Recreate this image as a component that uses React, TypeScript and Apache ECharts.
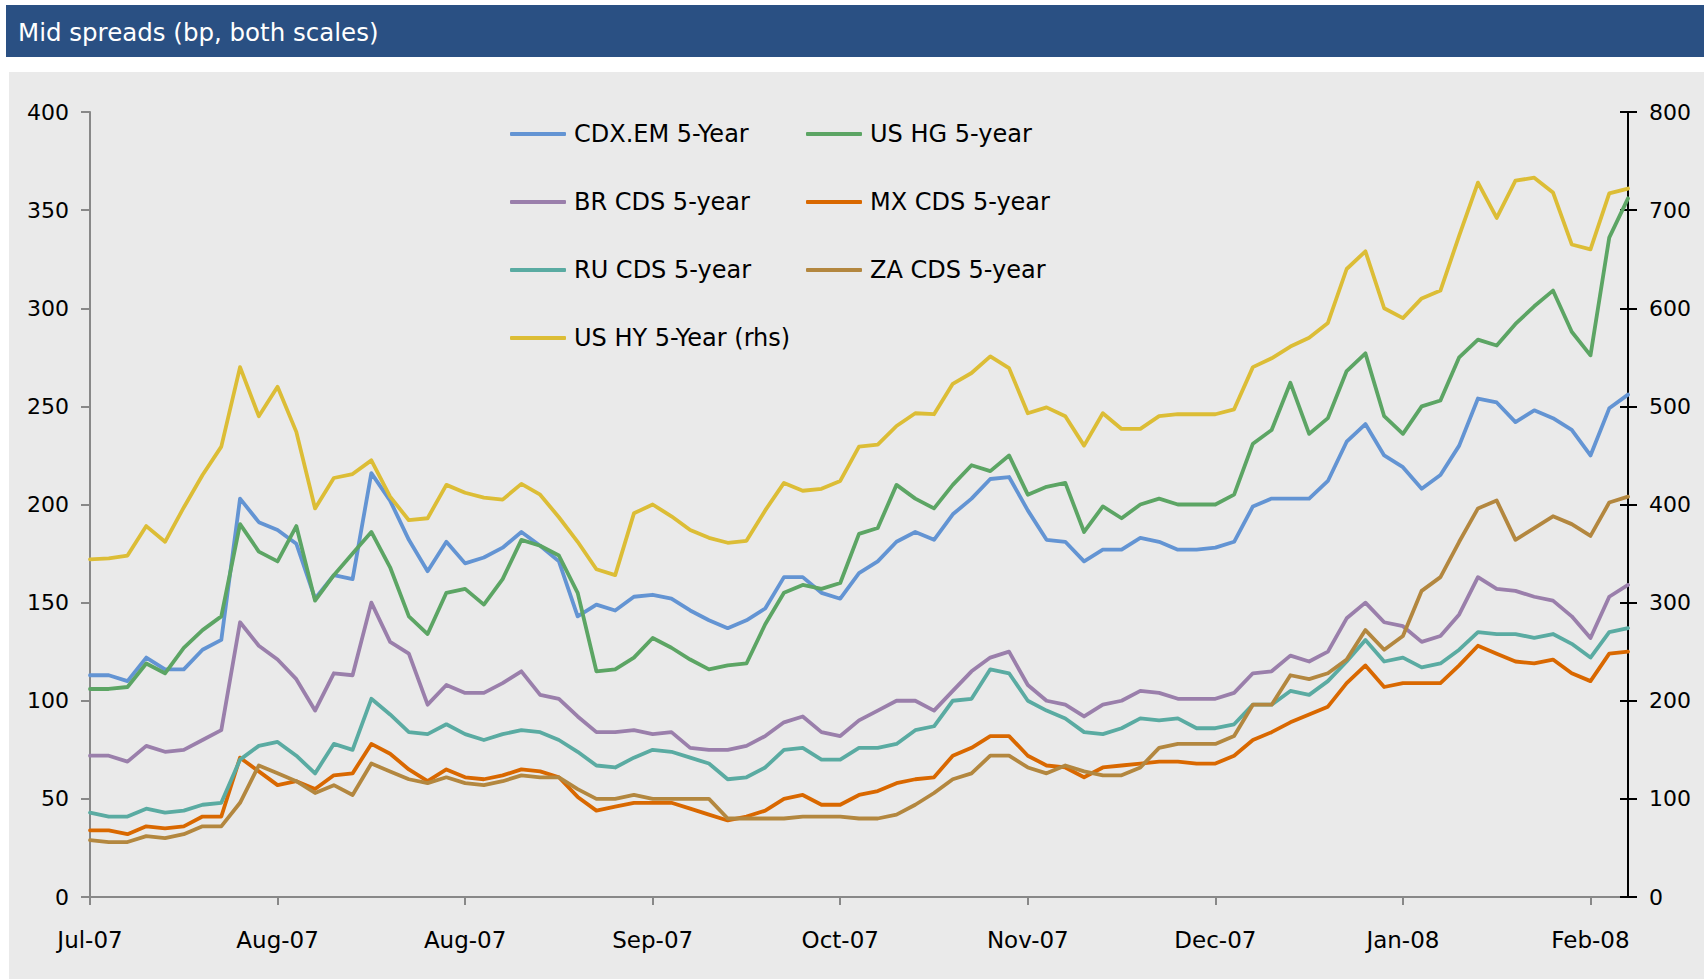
import React, { useEffect, useRef } from "react";
import * as echarts from "echarts";

// Month labels shown every 10 observations on the category axis
const monthLabels = ["Jul-07", "Aug-07", "Aug-07", "Sep-07", "Oct-07", "Nov-07", "Dec-07", "Jan-08", "Feb-08"];
const labelEvery = 10;
const obsCount = 83;
const observations = Array.from({ length: obsCount }, (_, i) => `obs${i}`);

// Left axis series (bp)
const cdxEm = [
  113, 113, 110, 122, 116, 116, 126, 131, 203, 191,
  187, 180, 152, 164, 162, 216, 202, 182, 166, 181,
  170, 173, 178, 186, 179, 171, 143, 149, 146, 153,
  154, 152, 146, 141, 137, 141, 147, 163, 163, 155,
  152, 165, 171, 181, 186, 182, 195, 203, 213, 214,
  197, 182, 181, 171, 177, 177, 183, 181, 177, 177,
  178, 181, 199, 203, 203, 203, 212, 232, 241, 225,
  219, 208, 215, 230, 254, 252, 242, 248, 244, 238,
  225, 249, 256,
];
const usHg = [
  106, 106, 107, 119, 114, 127, 136, 143, 190, 176,
  171, 189, 151, 164, 175, 186, 168, 143, 134, 155,
  157, 149, 162, 182, 179, 174, 155, 115, 116, 122,
  132, 127, 121, 116, 118, 119, 139, 155, 159, 157,
  160, 185, 188, 210, 203, 198, 210, 220, 217, 225,
  205, 209, 211, 186, 199, 193, 200, 203, 200, 200,
  200, 205, 231, 238, 262, 236, 244, 268, 277, 245,
  236, 250, 253, 275, 284, 281, 292, 301, 309, 288,
  276, 336, 356,
];
const brCds = [
  72, 72, 69, 77, 74, 75, 80, 85, 140, 128,
  121, 111, 95, 114, 113, 150, 130, 124, 98, 108,
  104, 104, 109, 115, 103, 101, 92, 84, 84, 85,
  83, 84, 76, 75, 75, 77, 82, 89, 92, 84,
  82, 90, 95, 100, 100, 95, 105, 115, 122, 125,
  108, 100, 98, 92, 98, 100, 105, 104, 101, 101,
  101, 104, 114, 115, 123, 120, 125, 142, 150, 140,
  138, 130, 133, 144, 163, 157, 156, 153, 151, 143,
  132, 153, 159,
];
const mxCds = [
  34, 34, 32, 36, 35, 36, 41, 41, 71, 64,
  57, 59, 55, 62, 63, 78, 73, 65, 59, 65,
  61, 60, 62, 65, 64, 61, 51, 44, 46, 48,
  48, 48, 45, 42, 39, 41, 44, 50, 52, 47,
  47, 52, 54, 58, 60, 61, 72, 76, 82, 82,
  72, 67, 66, 61, 66, 67, 68, 69, 69, 68,
  68, 72, 80, 84, 89, 93, 97, 109, 118, 107,
  109, 109, 109, 118, 128, 124, 120, 119, 121, 114,
  110, 124, 125,
];
const ruCds = [
  43, 41, 41, 45, 43, 44, 47, 48, 70, 77,
  79, 72, 63, 78, 75, 101, 93, 84, 83, 88,
  83, 80, 83, 85, 84, 80, 74, 67, 66, 71,
  75, 74, 71, 68, 60, 61, 66, 75, 76, 70,
  70, 76, 76, 78, 85, 87, 100, 101, 116, 114,
  100, 95, 91, 84, 83, 86, 91, 90, 91, 86,
  86, 88, 98, 98, 105, 103, 110, 120, 131, 120,
  122, 117, 119, 126, 135, 134, 134, 132, 134, 129,
  122, 135, 137,
];
const zaCds = [
  29, 28, 28, 31, 30, 32, 36, 36, 48, 67,
  63, 59, 53, 57, 52, 68, 64, 60, 58, 61,
  58, 57, 59, 62, 61, 61, 55, 50, 50, 52,
  50, 50, 50, 50, 40, 40, 40, 40, 41, 41,
  41, 40, 40, 42, 47, 53, 60, 63, 72, 72,
  66, 63, 67, 64, 62, 62, 66, 76, 78, 78,
  78, 82, 98, 98, 113, 111, 114, 121, 136, 126,
  133, 156, 163, 181, 198, 202, 182, 188, 194, 190,
  184, 201, 204,
];
// Right axis series (bp)
const usHy = [
  344, 345, 348, 378, 362, 397, 430, 459, 540, 490,
  520, 474, 396, 427, 431, 445, 408, 384, 386, 420,
  412, 407, 405, 421, 410, 387, 362, 334, 328, 391,
  400, 388, 374, 366, 361, 363, 394, 422, 414, 416,
  424, 459, 461, 480, 493, 492, 523, 534, 551, 539,
  493, 499, 490, 460, 493, 477, 477, 490, 492, 492,
  492, 497, 540, 549, 561, 570, 585, 640, 658, 600,
  590, 610, 618, 674, 728, 692, 730, 733, 718, 665,
  660, 717, 722,
];

const seriesDefs = [
  { name: "CDX.EM 5-Year", data: cdxEm, color: "#6394d3", axis: 0 },
  { name: "US HG 5-year", data: usHg, color: "#5ca564", axis: 0 },
  { name: "BR CDS 5-year", data: brCds, color: "#9a7fab", axis: 0 },
  { name: "MX CDS 5-year", data: mxCds, color: "#d96800", axis: 0 },
  { name: "RU CDS 5-year", data: ruCds, color: "#5aaba2", axis: 0 },
  { name: "ZA CDS 5-year", data: zaCds, color: "#b3873f", axis: 0 },
  { name: "US HY 5-Year (rhs)", data: usHy, color: "#dcbd36", axis: 1 },
];

const FONT = "DejaVu Sans";

export default function App() {
  const ref = useRef<HTMLDivElement>(null);

  useEffect(() => {
    if (!ref.current) return;
    const chart = echarts.init(ref.current, null, { renderer: "svg" });

    const legendCommon = {
      orient: "vertical",
      padding: 0,
      itemGap: 40,
      itemWidth: 56,
      itemHeight: 4,
      icon: "roundRect",
      selectedMode: false,
      textStyle: { fontFamily: FONT, fontSize: 24, color: "#000", lineHeight: 28, padding: [0, 0, 0, 3] },
    };

    chart.setOption({
      animation: false,
      backgroundColor: "#ffffff",
      graphic: [
        { type: "rect", z: -10, silent: true, shape: { x: 6, y: 5, width: 1698, height: 52 }, style: { fill: "#2a5083" } },
        { type: "rect", z: -10, silent: true, shape: { x: 9, y: 72, width: 1695, height: 907 }, style: { fill: "#eaeaea" } },
        {
          type: "text", z: -5, silent: true, x: 18, y: 32,
          style: { text: "Mid spreads (bp, both scales)", fill: "#ffffff", font: `24.5px "${FONT}"`, verticalAlign: "middle" },
        },
      ],
      legend: [
        { ...legendCommon, left: 510, top: 120, data: ["CDX.EM 5-Year", "BR CDS 5-year", "RU CDS 5-year", "US HY 5-Year (rhs)"] },
        { ...legendCommon, left: 806, top: 120, data: ["US HG 5-year", "MX CDS 5-year", "ZA CDS 5-year"] },
      ],
      grid: { left: 90, right: 76, top: 112, bottom: 82, containLabel: false },
      xAxis: {
        type: "category",
        data: observations,
        boundaryGap: false,
        axisLine: { lineStyle: { color: "#888888", width: 2 } },
        axisTick: { show: true, interval: labelEvery - 1, length: 8, lineStyle: { color: "#888888", width: 2 } },
        axisLabel: {
          interval: labelEvery - 1,
          margin: 31,
          fontFamily: FONT,
          fontSize: 23,
          color: "#000",
          formatter: (_v: string, idx: number) => (idx % labelEvery === 0 ? monthLabels[idx / labelEvery] : ""),
        },
        splitLine: { show: false },
      },
      yAxis: [
        {
          type: "value", position: "left", min: 0, max: 400, interval: 50,
          axisLine: { show: true, lineStyle: { color: "#888888", width: 2 } },
          axisTick: { show: true, length: 9, lineStyle: { color: "#888888", width: 2 } },
          axisLabel: { margin: 21, fontFamily: FONT, fontSize: 22, color: "#000" },
          splitLine: { show: false },
        },
        {
          type: "value", position: "right", min: 0, max: 800, interval: 100,
          axisLine: { show: true, lineStyle: { color: "#000000", width: 2 } },
          axisTick: { show: true, length: 9, lineStyle: { color: "#000000", width: 2 } },
          axisLabel: { margin: 21, fontFamily: FONT, fontSize: 22, color: "#000" },
          splitLine: { show: false },
        },
        {
          type: "value", position: "right", min: 0, max: 800, interval: 100,
          axisLine: { show: false },
          axisTick: { show: true, inside: true, length: 8, lineStyle: { color: "#000000", width: 2 } },
          axisLabel: { show: false },
          splitLine: { show: false },
        },
      ],
      series: seriesDefs.map((s) => ({
        name: s.name,
        type: "line",
        yAxisIndex: s.axis,
        data: s.data,
        showSymbol: false,
        symbol: "none",
        color: s.color,
        lineStyle: { color: s.color, width: 3.8, cap: "round", join: "round" },
        emphasis: { disabled: true },
      })),
    });

    return () => chart.dispose();
  }, []);

  return <div ref={ref} style={{ position: "fixed", left: 0, top: 0, width: 1704, height: 979 }} />;
}
